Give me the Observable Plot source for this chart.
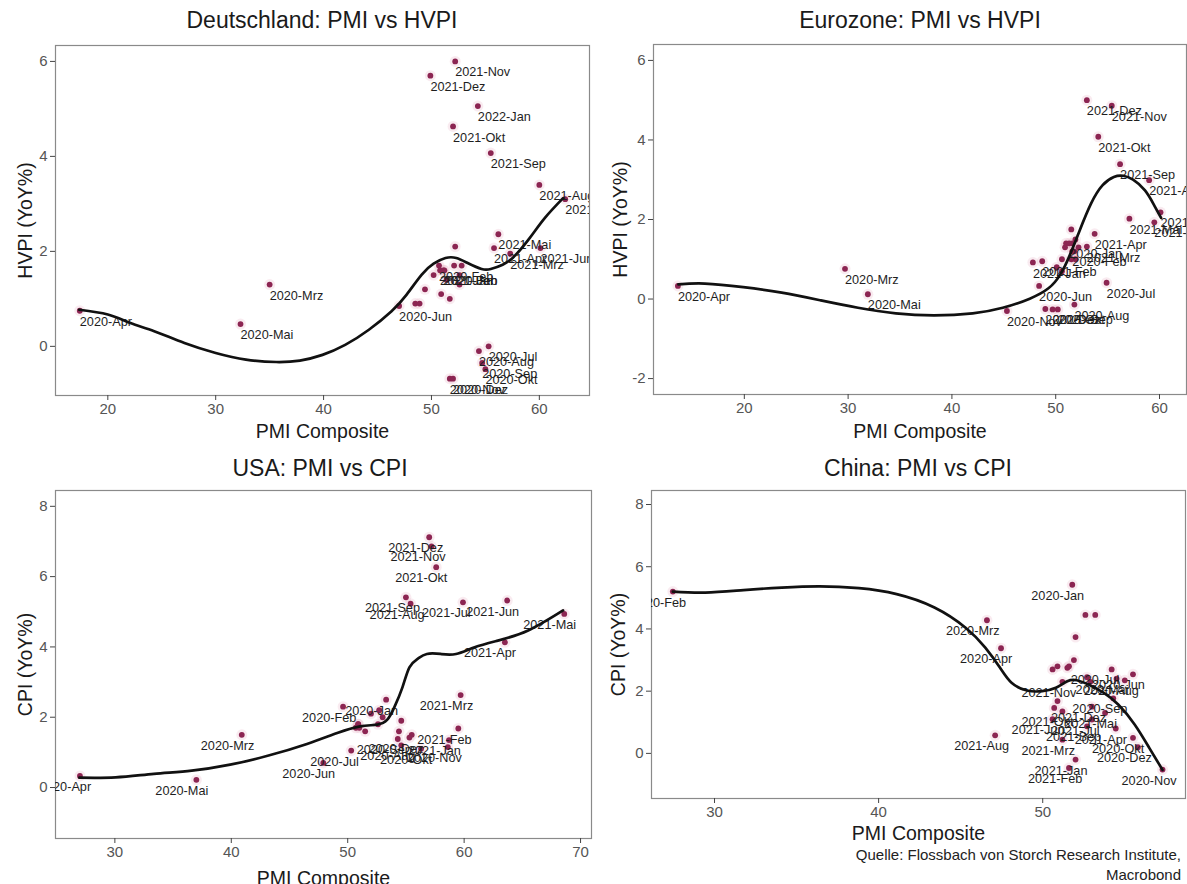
<!DOCTYPE html>
<html><head><meta charset="utf-8">
<script src="https://cdn.jsdelivr.net/npm/d3@7"></script>
<script src="https://cdn.jsdelivr.net/npm/@observablehq/plot@0.6"></script>
<style>
body{margin:0;background:#fff;}
#root{position:relative;width:1187px;height:884px;overflow:hidden;font-family:"Liberation Sans",Arial,sans-serif;background:#fff;}
.panel{position:absolute;}
.title{position:absolute;font-size:23px;color:#1a1a1a;white-space:nowrap;transform:translate(-50%,-50%);}
.caption{position:absolute;right:6px;top:845px;font-size:15px;color:#222;text-align:right;line-height:20px;}
</style></head><body><div id="root"></div>
<script>
// ---------- categories ----------
const monthNames = ["Jan","Feb","Mrz","Apr","Mai","Jun","Jul","Aug","Sep","Okt","Nov","Dez"];
const years = [2019, 2020, 2021];
const periods = years.flatMap(y => monthNames.map(m => `${y}-${m}`));
const dePeriods = [...periods, "2022-Jan"];

// ---------- Deutschland ----------
const dePmi  = [52.1,52.8,51.4,52.2,52.6,52.6,50.9,51.7,48.5,48.9,49.4,50.2,
                51.2,50.7,35.0,17.4,32.3,47.0,55.3,54.4,54.7,55.0,51.7,52.0,
                50.8,51.1,57.3,55.8,56.2,60.1,62.4,60.0,55.5,52.0,52.2,49.9,
                54.3];
const deHvpi = [1.7,1.7,1.4,2.1,1.3,1.5,1.1,1.0,0.9,0.9,1.2,1.5,
                1.6,1.7,1.3,0.75,0.47,0.85,0.0,-0.1,-0.35,-0.48,-0.68,-0.68,
                1.6,1.6,1.95,2.07,2.36,2.07,3.1,3.4,4.07,4.63,6.0,5.7,
                5.06];
const deCurveX = [17.35,20,22.1,24.3,27.1,30,32.8,35.6,37.8,39.9,42,44.2,46.3,47.7,49.1,50.2,51.3,52.3,53.4,54.65,55.5,56.6,57.65,59.1,60.5,62.2];
const deCurveY = [0.77,0.67,0.49,0.32,0.07,-0.14,-0.28,-0.33,-0.30,-0.18,0.03,0.35,0.74,1.09,1.51,1.74,1.86,1.86,1.75,1.63,1.63,1.72,1.89,2.28,2.7,3.12];

// ---------- Eurozone ----------
const ezPmi  = [51.0,51.9,51.6,51.5,51.8,52.2,51.5,51.9,50.1,50.6,50.6,50.9,
                51.3,51.6,29.7,13.6,31.9,48.4,54.9,51.8,50.2,49.7,45.3,49.0,
                47.8,48.7,53.0,53.75,57.1,59.5,60.1,59.0,56.2,54.1,55.4,53.0];
const ezHvpi = [1.4,1.5,1.4,1.75,1.2,1.3,1.0,1.0,0.8,0.7,1.0,1.3,
                1.4,1.2,0.76,0.33,0.12,0.33,0.41,-0.14,-0.26,-0.26,-0.3,-0.25,
                0.92,0.95,1.32,1.64,2.02,1.93,2.18,2.99,3.39,4.08,4.86,5.0];
const ezCurveX = [13.65,16.2,19.9,23.6,27.3,30.95,34.6,38.3,42.0,44.9,47.5,49.3,50.45,51.4,52.3,53.4,54.5,55.6,56.5,57.45,58.6,59.5,60.15];
const ezCurveY = [0.37,0.39,0.30,0.16,-0.03,-0.22,-0.36,-0.41,-0.36,-0.22,0.01,0.27,0.62,1.13,1.72,2.4,2.86,3.07,3.10,3.0,2.73,2.35,2.04];

// ---------- USA ----------
const usPmi = [54.4,55.5,54.6,53.0,50.9,51.5,52.6,50.7,51.0,50.9,52.0,52.7,
               53.3,49.6,40.9,27.0,37.0,47.9,50.3,54.6,54.3,56.3,58.6,55.3,
               58.7,59.5,59.7,63.5,68.6,63.7,59.9,55.4,55.0,57.6,57.2,57.0];
const usCpi = [1.6,1.5,1.9,2.0,1.8,1.6,1.8,1.7,1.7,1.8,2.1,2.2,
               2.5,2.3,1.5,0.33,0.22,0.7,1.05,1.2,1.38,1.1,1.15,1.42,
               1.35,1.68,2.63,4.13,4.94,5.32,5.27,5.23,5.41,6.27,6.86,7.12];
const usCurveX = [26.95,30.07,33.35,36.6,39.9,43.2,46.5,49.1,51.07,52.55,53.4,54.0,54.7,55.3,56.0,56.8,57.97,59.3,60.9,62.9,65.5,68.5];
const usCurveY = [0.28,0.29,0.39,0.48,0.65,0.91,1.24,1.55,1.74,1.79,1.93,2.28,2.85,3.42,3.66,3.80,3.80,3.80,3.99,4.18,4.47,5.04];

// ---------- China ----------
const cnPmi = [50.9,50.7,52.9,52.7,51.5,50.6,50.9,51.6,51.9,52.0,53.2,52.6,
               51.8,27.46,46.6,47.46,54.5,55.5,54.2,55.0,54.3,55.5,57.3,55.8,
               52.0,51.6,51.2,54.45,53.8,50.6,53.0,47.1,52.7,51.2,51.2,53.0];
const cnCpi = [1.68,1.46,2.3,2.45,2.75,2.7,2.8,2.8,3.0,3.74,4.45,4.45,
               5.42,5.2,4.28,3.38,2.4,2.54,2.7,2.35,1.77,0.5,-0.52,0.2,
               -0.2,-0.47,0.44,0.8,1.3,1.1,1.09,0.58,0.87,1.35,2.3,1.5];
const cnCurveX = [27.46,29.44,31.77,34.1,36.4,38.8,41.1,43.4,45.3,46.5,47.4,48.1,49.04,49.97,50.8,51.5,52.07,52.8,53.7,54.6,55.6,56.5,57.3];
const cnCurveY = [5.2,5.17,5.25,5.33,5.37,5.31,5.12,4.69,4.04,3.40,2.75,2.27,2.02,2.0,2.11,2.32,2.35,2.21,1.95,1.57,0.93,0.17,-0.53];

// ---------- tick values ----------
const deXTicks = [20,30,40,50,60], deYTicks = [0,2,4,6];
const ezXTicks = [20,30,40,50,60], ezYTicks = [-2,0,2,4,6];
const usXTicks = [30,40,50,60,70], usYTicks = [0,2,4,6,8];
const cnXTicks = [30,40,50],       cnYTicks = [0,2,4,6,8];

const FONT = "Liberation Sans, Arial, sans-serif";
const DOT = "#8c2552";
const root = document.getElementById("root");

function makePanel(cfg) {
  const pts = cfg.periods.map((p, i) => ({p, x: cfg.xs[i], y: cfg.ys[i]}));
  const labelled = pts.filter(d => !d.p.startsWith("2019"));
  const curve = cfg.cx.map((x, i) => ({x, y: cfg.cy[i]}));
  const plot = Plot.plot({
    width: cfg.w, height: cfg.h,
    marginTop: cfg.m[0], marginRight: cfg.m[1], marginBottom: cfg.m[2], marginLeft: cfg.m[3],
    x: {domain: cfg.xd}, y: {domain: cfg.yd},
    style: {fontFamily: FONT, background: "transparent", overflow: "visible"},
    marks: [
      Plot.frame({stroke: "#8a8a8a", strokeWidth: 1.2}),
      Plot.axisX({ticks: cfg.xt, tickSize: 5, tickPadding: 3, fontSize: 15, fill: "#555", stroke: "#444", label: null, tickFormat: d => String(d)}),
      Plot.axisX({ticks: [], tickSize: 0, label: "PMI Composite", labelAnchor: "center", labelArrow: "none", labelOffset: cfg.xlo, fontSize: 19.5, fill: "#1a1a1a"}),
      Plot.axisY({ticks: cfg.yt, tickSize: 5, tickPadding: 3, fontSize: 15, fill: "#555", stroke: "#444", label: null, tickFormat: d => String(d)}),
      Plot.axisY({ticks: [], tickSize: 0, label: cfg.ylabel, labelAnchor: "center", labelArrow: "none", labelOffset: cfg.ylo, fontSize: 19.5, fill: "#1a1a1a"}),
      Plot.dot(pts, {x: "x", y: "y", r: 5.5, fill: "#e3a3ba", fillOpacity: 0.22}),
      Plot.dot(pts, {x: "x", y: "y", r: 2.9, fill: DOT}),
      Plot.text(labelled, {x: "x", y: "y", text: "p", textAnchor: "start", dx: cfg.ldx, dy: 11, fontSize: 12.7, fill: "#1e1e1e", clip: true}),
      Plot.line(curve, {x: "x", y: "y", curve: "natural", stroke: "#111", strokeWidth: 2.7})
    ]
  });
  const div = document.createElement("div");
  div.className = "panel";
  div.style.left = cfg.left + "px";
  div.style.top = cfg.top + "px";
  div.appendChild(plot);
  root.appendChild(div);
  const t = document.createElement("div");
  t.className = "title";
  t.textContent = cfg.title;
  t.style.left = cfg.tx + "px";
  t.style.top = cfg.ty + "px";
  root.appendChild(t);
}

makePanel({title: "Deutschland: PMI vs HVPI", tx: 322, ty: 20, left: 0, top: 0, w: 593, h: 440, m: [45, 4, 45, 55],
  xd: [15.15, 64.65], yd: [-1.035, 6.335], xt: deXTicks, yt: deYTicks, ylabel: "HVPI (YoY%)", xlo: 42, ylo: 37, ldx: 0,
  periods: dePeriods, xs: dePmi, ys: deHvpi, cx: deCurveX, cy: deCurveY});
makePanel({title: "Eurozone: PMI vs HVPI", tx: 920, ty: 20, left: 593, top: 0, w: 594, h: 440, m: [44, 1, 46, 60],
  xd: [11.25, 62.6], yd: [-2.4, 6.4], xt: ezXTicks, yt: ezYTicks, ylabel: "HVPI (YoY%)", xlo: 43, ylo: 40, ldx: 0,
  periods: periods, xs: ezPmi, ys: ezHvpi, cx: ezCurveX, cy: ezCurveY});
makePanel({title: "USA: PMI vs CPI", tx: 320, ty: 468, left: 0, top: 440, w: 593, h: 444, m: [50, 2, 46, 55],
  xd: [24.9, 70.94], yd: [-1.45, 8.45], xt: usXTicks, yt: usYTicks, ylabel: "CPI (YoY%)", xlo: 46, ylo: 37, ldx: -41,
  periods: periods, xs: usPmi, ys: usCpi, cx: usCurveX, cy: usCurveY});
makePanel({title: "China: PMI vs CPI", tx: 918, ty: 468, left: 593, top: 440, w: 594, h: 444, m: [50, 2, 86, 58],
  xd: [26.16, 58.7], yd: [-1.45, 8.45], xt: cnXTicks, yt: cnYTicks, ylabel: "CPI (YoY%)", xlo: 41, ylo: 40, ldx: -41,
  periods: periods, xs: cnPmi, ys: cnCpi, cx: cnCurveX, cy: cnCurveY});

const cap = document.createElement("div");
cap.className = "caption";
cap.innerHTML = "Quelle: Flossbach von Storch Research Institute,<br>Macrobond";
root.appendChild(cap);
</script>
</body></html>
